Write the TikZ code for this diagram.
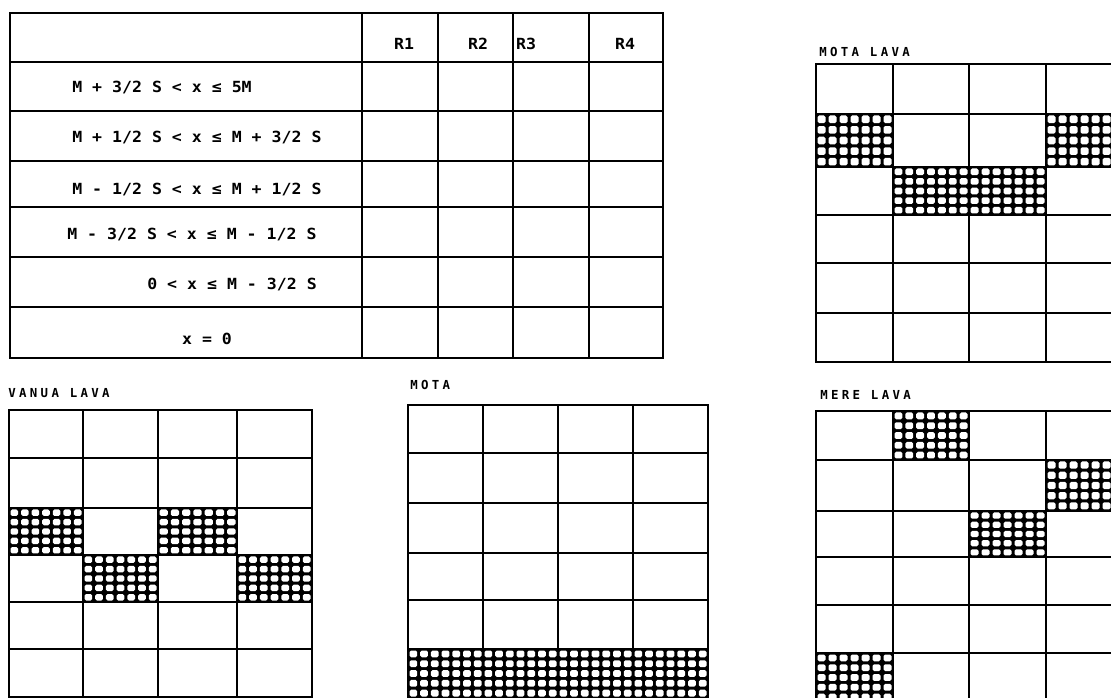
\documentclass[tikz,border=0pt]{standalone}
\usepackage{fontspec}
\newfontfamily\plotfont[FakeStretch=1.08]{DejaVu Sans Mono Bold}
\newfontfamily\titlefont[LetterSpace=27]{DejaVu Sans Mono Bold}
\newcommand\hatchcell[4]{%
  \fill[black] (#1,#2) rectangle (#3,#4);
  \pgfmathsetmacro\hdx{(#3-#1)/7}%
  \pgfmathsetmacro\hdy{(#4-#2)/5}%
  \foreach \i in {0,...,6}{\foreach \j in {0,...,4}{%
    \fill[white,rounded corners=1.2pt] ({#1+\i*\hdx+1.5},{#2+\j*\hdy+1.5}) rectangle ({#1+(\i+1)*\hdx-1.5},{#2+(\j+1)*\hdy-1.5});
  }}%
}
\newcommand\gridlines[2]{% #1 column xs, #2 row ys
  \foreach \gx [count=\gi] in {#1}{\ifnum\gi=1 \xdef\gxa{\gx}\fi \xdef\gxb{\gx}}%
  \foreach \gy [count=\gi] in {#2}{\ifnum\gi=1 \xdef\gya{\gy}\fi \xdef\gyb{\gy}}%
  \foreach \gx in {#1}{\draw[gline] (\gx,\gya) -- (\gx,\gyb);}%
  \foreach \gy in {#2}{\draw[gline] (\gxa,\gy) -- (\gxb,\gy);}%
}
\begin{document}
\begin{tikzpicture}[x=0.75pt,y=-0.75pt,
  gline/.style={line width=1.6pt,line cap=rect},
  lbl/.style={font=\plotfont\fontsize{11.5}{13}\selectfont,inner sep=0pt,anchor=base west},
  hdr/.style={font=\plotfont\fontsize{11.5}{13}\selectfont,inner sep=0pt,anchor=base},
  ttl/.style={font=\titlefont\fontsize{9.3}{11}\selectfont,inner sep=0pt,anchor=base west}]
\useasboundingbox (0,0) rectangle (1111,698);
\fill[white] (0,0) rectangle (1111,698);
\clip (0,0) rectangle (1111,698);

% ---------- main table ----------
\gridlines{10,362,438,513,589,663}{13,62,111,161,207,257,307,358}
\node[hdr] (r1) at (404,50) {R1};
\node[hdr] (r2) at (478,50) {R2};
\node[hdr] (r3) at (526,50) {R3};
\node[hdr] (r4) at (625,50) {R4};
\node[lbl] (c1) at (72,93) {M + 3/2 S < x ≤ 5M};
\node[lbl] (c2) at (72,143) {M + 1/2 S < x ≤ M + 3/2 S};
\node[lbl] (c3) at (72,195) {M - 1/2 S < x ≤ M + 1/2 S};
\node[lbl] (c4) at (67,240) {M - 3/2 S < x ≤ M - 1/2 S};
\node[lbl] (c5) at (147,290) {0 < x ≤ M - 3/2 S};
\node[hdr] (c6) at (207,345) {x = 0};

% ---------- MOTA LAVA ----------
\node[ttl] (t1) at (819,57) {MOTA LAVA};
\hatchcell{816}{114}{893}{167}
\hatchcell{1046}{114}{1123}{167}
\hatchcell{893}{167}{969}{215}
\hatchcell{969}{167}{1046}{215}
\gridlines{816,893,969,1046,1123}{64,114,167,215,263,313,362}

% ---------- VANUA LAVA ----------
\node[ttl] (t2) at (8,398) {VANUA LAVA};
\hatchcell{9}{508}{83}{555}
\hatchcell{158}{508}{237}{555}
\hatchcell{83}{555}{158}{602}
\hatchcell{237}{555}{312}{602}
\gridlines{9,83,158,237,312}{410,458,508,555,602,649,697}

% ---------- MOTA ----------
\node[ttl] (t3) at (410,390) {MOTA};
\hatchcell{408}{649}{483}{698}
\hatchcell{483}{649}{558}{698}
\hatchcell{558}{649}{633}{698}
\hatchcell{633}{649}{708}{698}
\gridlines{408,483,558,633,708}{405,453,503,553,600,649,698}

% ---------- MERE LAVA ----------
\node[ttl] (t4) at (820,400) {MERE LAVA};
\hatchcell{893}{411}{969}{460}
\hatchcell{1046}{460}{1123}{511}
\hatchcell{969}{511}{1046}{557}
\hatchcell{816}{653}{893}{702}
\gridlines{816,893,969,1046,1123}{411,460,511,557,605,653,702}
\end{tikzpicture}
\end{document}
